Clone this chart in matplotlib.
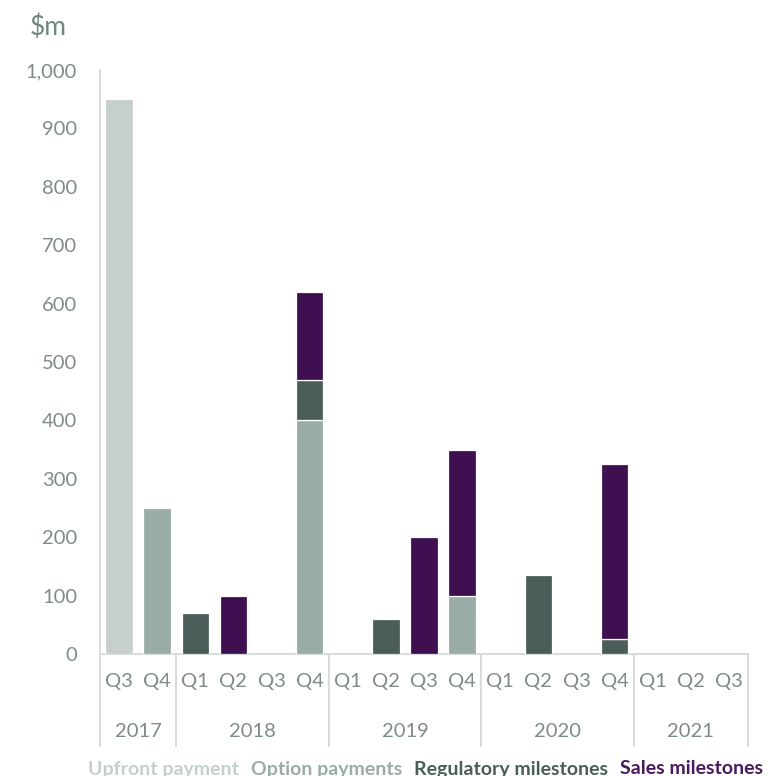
import matplotlib
matplotlib.use("Agg")
import matplotlib.pyplot as plt
import matplotlib.transforms as mtransforms
import numpy as np

plt.rcParams['font.family'] = ['Lato', 'DejaVu Sans']

# Quarterly payments, $m
quarters = ["Q3", "Q4",
            "Q1", "Q2", "Q3", "Q4",
            "Q1", "Q2", "Q3", "Q4",
            "Q1", "Q2", "Q3", "Q4",
            "Q1", "Q2", "Q3"]
years = ["2017", "2018", "2019", "2020", "2021"]
quarters_per_year = [2, 4, 4, 4, 3]

upfront    = [950, 0, 0, 0, 0, 0,   0, 0, 0, 0,   0, 0, 0, 0,   0, 0, 0]
option     = [0, 250, 0, 0, 0, 400, 0, 0, 0, 100, 0, 0, 0, 0,   0, 0, 0]
regulatory = [0, 0, 70, 0, 0, 70,   0, 60, 0, 0,  0, 135, 0, 25, 0, 0, 0]
sales      = [0, 0, 0, 100, 0, 150, 0, 0, 200, 250, 0, 0, 0, 300, 0, 0, 0]

series_names = ["Upfront payment", "Option payments", "Regulatory milestones", "Sales milestones"]
series_colors = ["#c5d0cc", "#9aaca7", "#4a5d58", "#3e1052"]
legend_colors = ["#c5d0cc", "#9aaca7", "#4a5d58", "#4a1a5e"]
tick_color = "#7f8b88"
line_color = "#d6dcda"

fig = plt.figure(figsize=(7.68, 7.76), dpi=100)
ax = fig.add_axes([100/768, 1-654/776, 648/768, 584/776])

x = np.arange(len(quarters))
bottom = np.zeros(len(quarters))
for vals, col in zip([upfront, option, regulatory, sales], series_colors):
    v = np.array(vals, dtype=float)
    mask = v > 0
    ax.bar(x[mask], v[mask], bottom=bottom[mask], width=0.72, color=col,
           edgecolor="white", linewidth=0.9, zorder=3)
    bottom += v

ax.set_xlim(-0.5, len(quarters) - 0.5)
ax.set_ylim(0, 1000)
ax.set_yticks(np.arange(0, 1001, 100))
ax.set_yticklabels([f"{v:,}" for v in range(0, 1001, 100)])
ax.tick_params(axis='y', which='major', length=0, pad=16.5, labelsize=14.5, colors=tick_color)
ax.set_yticks([0, 1000], minor=True)
ax.tick_params(axis='y', which='minor', length=6, width=1.2, color=line_color)
ax.set_xticks(x)
ax.set_xticklabels(quarters)
ax.tick_params(axis='x', length=0, pad=14, labelsize=14.5, colors=tick_color)

for side in ["top", "right"]:
    ax.spines[side].set_visible(False)
for side in ["left", "bottom"]:
    ax.spines[side].set_color(line_color)
    ax.spines[side].set_linewidth(1.4)

# Year group separators and labels below the quarter labels
trans = mtransforms.blended_transform_factory(ax.transData, ax.transAxes)
edges = np.concatenate([[0], np.cumsum(quarters_per_year)]) - 0.5
for e in edges:
    ax.plot([e, e], [0, -0.158], transform=trans, color=line_color,
            linewidth=1.4, clip_on=False, zorder=1)
for i, yr in enumerate(years):
    center = (edges[i] + edges[i + 1]) / 2
    ax.text(center, -0.132, yr, transform=trans, ha="center", va="center",
            fontsize=14.5, color=tick_color)

fig.text(30/768, 1-27/776, "$m", ha="left", va="center", fontsize=19, color="#6f8682")

# Coloured text legend along the bottom
renderer = fig.canvas.get_renderer()
xpos = 88
gap = 12
for name, col in zip(series_names, legend_colors):
    t = fig.text(xpos/768, 1-769/776, name, ha="left", va="center",
                 fontsize=14, fontweight="bold", color=col)
    bb = t.get_window_extent(renderer=renderer)
    xpos += bb.width + gap

fig.savefig("out.png", dpi=100)
